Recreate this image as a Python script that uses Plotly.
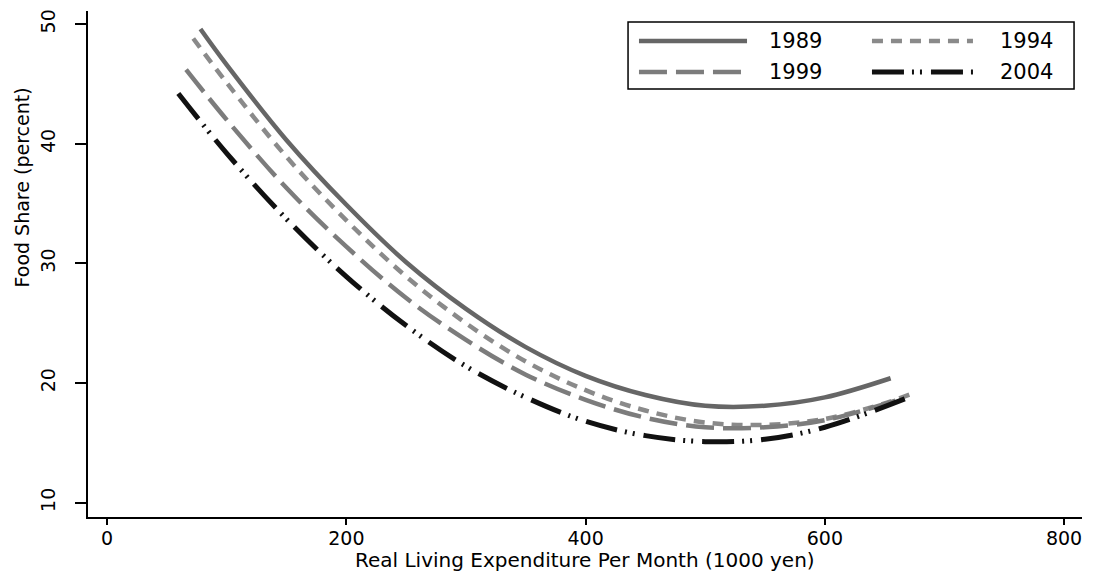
import plotly.graph_objects as go

# ---- data (x: 1000 yen, y: percent) ----
x_1989 = [78, 100, 150, 200, 250, 300, 350, 400, 450, 500, 550, 600, 655]
y_1989 = [49.6, 46.6, 40.3, 34.9, 30.1, 26.2, 23.0, 20.6, 19.0, 18.1, 18.1, 18.8, 20.4]

x_1994 = [72, 100, 150, 200, 250, 300, 350, 400, 450, 500, 550, 600, 650, 675]
y_1994 = [48.8, 45.1, 38.9, 33.6, 28.9, 25.0, 21.8, 19.4, 17.7, 16.7, 16.5, 17.0, 18.3, 19.2]

x_1999 = [66, 100, 150, 200, 250, 300, 350, 400, 450, 500, 550, 600, 665]
y_1999 = [46.2, 42.0, 36.3, 31.4, 27.1, 23.6, 20.7, 18.6, 17.1, 16.3, 16.3, 16.9, 18.7]

x_2004 = [59.5, 100, 150, 200, 250, 300, 350, 400, 450, 500, 550, 600, 670]
y_2004 = [44.2, 39.2, 33.7, 28.9, 24.8, 21.4, 18.8, 16.8, 15.6, 15.1, 15.3, 16.3, 18.8]

series_names = ["1989", "1994", "1999", "2004"]
x_ticks = [0, 200, 400, 600, 800]
y_ticks = [10, 20, 30, 40, 50]

x_title = "Real Living Expenditure Per Month (1000 yen)"
y_title = "Food Share (percent)"

styles = {
    "1989": dict(color="#666666", width=4.5, dash="solid"),
    "1994": dict(color="#8a8a8a", width=4.5, dash="11px,8px"),
    "1999": dict(color="#7c7c7c", width=4.5, dash="28px,9px"),
    "2004": dict(color="#111111", width=5, dash="32px,8px,2px,6px,2px,9px"),
}

FONT = "DejaVu Sans"

fig = go.Figure()
for name, xs, ys in zip(series_names,
                        [x_1989, x_1994, x_1999, x_2004],
                        [y_1989, y_1994, y_1999, y_2004]):
    fig.add_trace(go.Scatter(x=xs, y=ys, mode="lines", name=name,
                             line=dict(shape="spline", smoothing=1.0, **styles[name]),
                             showlegend=False))

# ---- legend drawn as a boxed two-column key ----
L = dict(x0=0.5433, x1=0.9920, y0=0.8458, y1=0.9783)
shapes = [dict(type="rect", xref="paper", yref="paper", line=dict(color="black", width=1.5),
               fillcolor="white", layer="above", **L)]
rows = [0.9407, 0.9407, 0.8794, 0.8794]
cols = [(0.5543, 0.6630, 0.6831), (0.7887, 0.8903, 0.9155), (0.5543, 0.6630, 0.6831), (0.7887, 0.8903, 0.9155)]
annotations = []
for name, ry, (lx0, lx1, tx) in zip(series_names, rows, cols):
    st = styles[name]
    shapes.append(dict(type="line", xref="paper", yref="paper", x0=lx0, x1=lx1, y0=ry, y1=ry,
                       line=dict(color=st["color"], width=st["width"], dash=st["dash"]), layer="above"))
    annotations.append(dict(text=name, xref="paper", yref="paper", x=tx, y=ry, xanchor="left",
                            yanchor="middle", showarrow=False, font=dict(family=FONT, size=21, color="black")))

annotations.append(dict(text=x_title, xref="paper", yref="paper", x=0.50, y=-0.084,
                        xanchor="center", yanchor="middle", showarrow=False,
                        font=dict(family=FONT, size=20, color="black")))
annotations.append(dict(text=y_title, xref="paper", yref="paper", x=-0.066, y=0.652,
                        xanchor="center", yanchor="middle", textangle=-90, showarrow=False,
                        font=dict(family=FONT, size=19, color="black")))

fig.update_layout(
    width=1095, height=580,
    margin=dict(l=80, r=21, t=3, b=71, autoexpand=False),
    paper_bgcolor="white", plot_bgcolor="white",
    shapes=shapes, annotations=annotations,
    xaxis=dict(range=[-16, 815], tickvals=x_ticks, showgrid=False, zeroline=False,
               showline=True, linecolor="black", linewidth=2, ticks="outside",
               ticklen=6, tickwidth=2, tickcolor="black", automargin=False,
               ticklabelstandoff=-3,
               tickfont=dict(family=FONT, size=19, color="black")),
    yaxis=dict(range=[8.8, 51.1], tickvals=y_ticks, showgrid=False, zeroline=False,
               showline=True, linecolor="black", linewidth=2, ticks="outside",
               ticklen=11, tickwidth=2, tickcolor="black", tickangle=-90,
               ticklabelstandoff=12, automargin=False,
               tickfont=dict(family=FONT, size=19, color="black")),
)

fig.write_html("out.html")
